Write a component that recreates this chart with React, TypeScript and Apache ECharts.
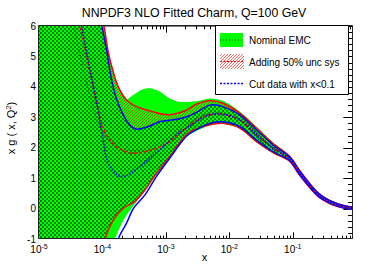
import React, { useEffect, useRef } from 'react';
import * as echarts from 'echarts';

const TITLE = 'NNPDF3 NLO Fitted Charm, Q=100 GeV';
const LEGEND_LABELS = ['Nominal EMC', 'Adding 50% unc sys', 'Cut data with x<0.1'];
// axes (x axis is log10(x))
const X_MIN = -5;
const X_MAX = -0.05;
const Y_MIN = -1;
const Y_MAX = 6;
const DECADES = [-5, -4, -3, -2, -1];
const MINOR_MULT = [2, 3, 4, 5, 6, 7, 8, 9];
const Y_MAJOR = [-1, 0, 1, 2, 3, 4, 5, 6];
const Y_SUBDIV = 5;

// [log10(x), x g(x,Q^2)]
const NOMINAL_UP = [[-5, 10], [-4.3, 9], [-4.1, 7.1], [-3.976, 6.0], [-3.91, 5.16], [-3.83, 4.5], [-3.75, 4.0], [-3.62, 3.6], [-3.51, 3.74], [-3.36, 3.92], [-3.23, 3.95], [-3.09, 3.84], [-2.94, 3.62], [-2.78, 3.51], [-2.52, 3.53], [-2.31, 3.62], [-2.1, 3.54], [-1.83, 3.18], [-1.57, 2.69], [-1.31, 2.17], [-1.05, 1.73], [-0.9, 1.29], [-0.73, 0.83], [-0.6, 0.53], [-0.45, 0.31], [-0.3, 0.17], [-0.15, 0.085], [-0.05, 0.05]];
const NOMINAL_LO = [[-5, -6], [-4.1, -3], [-3.8, -1.0], [-3.67, -0.38], [-3.54, 0.01], [-3.36, 0.5], [-3.15, 1.1], [-2.94, 1.66], [-2.73, 2.24], [-2.62, 2.44], [-2.31, 2.73], [-2.1, 2.78], [-1.83, 2.62], [-1.57, 2.17], [-1.31, 1.82], [-1.05, 1.55], [-0.9, 1.11], [-0.73, 0.67], [-0.6, 0.39], [-0.45, 0.19], [-0.3, 0.07], [-0.15, -0.005], [-0.05, -0.03]];
const NOMINAL_C = [[-4.75, 9], [-4.45, 6.0], [-4.3, 4.6], [-4.17, 3.5], [-4.05, 2.75], [-3.92, 2.3], [-3.78, 2.05], [-3.6, 1.92], [-3.45, 1.92], [-3.25, 2.02], [-3.04, 2.22], [-2.88, 2.45], [-2.73, 2.68], [-2.5, 2.98], [-2.31, 3.14], [-2.1, 3.14], [-1.83, 2.95], [-1.57, 2.44], [-1.31, 2.0], [-1.05, 1.64], [-0.9, 1.2], [-0.73, 0.75], [-0.6, 0.46], [-0.45, 0.25], [-0.3, 0.12], [-0.15, 0.04], [-0.05, 0.01]];

const SYS_UP = [[-5, 10], [-4.3, 9], [-4.1, 7.1], [-3.976, 6.0], [-3.91, 5.16], [-3.83, 4.5], [-3.75, 4.0], [-3.62, 3.57], [-3.46, 3.35], [-3.25, 3.21], [-3.04, 3.1], [-2.88, 3.1], [-2.67, 3.24], [-2.52, 3.43], [-2.31, 3.54], [-2.1, 3.46], [-1.83, 3.13], [-1.57, 2.64], [-1.31, 2.14], [-1.05, 1.72], [-0.9, 1.28], [-0.73, 0.82], [-0.6, 0.52], [-0.45, 0.3], [-0.3, 0.165], [-0.15, 0.08], [-0.05, 0.045]];
const SYS_LO = [[-5, -6], [-4.2, -3], [-3.96, -1.0], [-3.83, -0.38], [-3.67, 0.01], [-3.49, 0.23], [-3.33, 0.61], [-3.15, 1.16], [-2.94, 1.7], [-2.73, 2.31], [-2.62, 2.52], [-2.31, 2.75], [-2.1, 2.8], [-1.83, 2.64], [-1.57, 2.2], [-1.31, 1.84], [-1.05, 1.56], [-0.9, 1.12], [-0.73, 0.68], [-0.6, 0.4], [-0.45, 0.2], [-0.3, 0.075], [-0.15, 0.0], [-0.05, -0.025]];
const SYS_C = [[-4.65, 9], [-4.354, 6.0], [-4.25, 5.0], [-4.145, 4.0], [-4.05, 3.1], [-3.98, 2.6], [-3.88, 2.25], [-3.78, 2.03], [-3.65, 1.88], [-3.52, 1.82], [-3.35, 1.86], [-3.2, 1.95], [-3.04, 2.08], [-2.88, 2.3], [-2.73, 2.56], [-2.5, 2.92], [-2.31, 3.08], [-2.1, 3.1], [-1.83, 2.9], [-1.57, 2.42], [-1.31, 1.99], [-1.05, 1.64], [-0.9, 1.2], [-0.73, 0.75], [-0.6, 0.46], [-0.45, 0.25], [-0.3, 0.12], [-0.15, 0.04], [-0.05, 0.01]];

const CUT_UP = [[-5, 10], [-4.3, 8.8], [-4.12, 7.0], [-4.01, 6.0], [-3.93, 5.16], [-3.86, 4.28], [-3.78, 3.62], [-3.67, 3.07], [-3.57, 2.75], [-3.46, 2.61], [-3.3, 2.68], [-3.09, 2.86], [-2.88, 2.92], [-2.67, 3.02], [-2.52, 3.16], [-2.31, 3.4], [-2.1, 3.35], [-1.83, 3.07], [-1.57, 2.58], [-1.31, 2.09], [-1.05, 1.7], [-0.9, 1.26], [-0.73, 0.8], [-0.6, 0.51], [-0.45, 0.29], [-0.3, 0.16], [-0.15, 0.075], [-0.05, 0.04]];
const CUT_LO = [[-5, -6], [-4.0, -3], [-3.75, -1.0], [-3.62, -0.48], [-3.51, 0.01], [-3.33, 0.45], [-3.15, 1.05], [-2.94, 1.65], [-2.73, 2.25], [-2.62, 2.47], [-2.31, 2.8], [-2.1, 2.85], [-1.83, 2.69], [-1.57, 2.25], [-1.31, 1.87], [-1.05, 1.58], [-0.9, 1.14], [-0.73, 0.7], [-0.6, 0.41], [-0.45, 0.21], [-0.3, 0.08], [-0.15, 0.005], [-0.05, -0.02]];
const CUT_C = [[-4.62, 9], [-4.33, 6.0], [-4.2, 4.6], [-4.09, 3.46], [-4.0, 2.4], [-3.93, 1.6], [-3.85, 1.28], [-3.78, 1.12], [-3.7, 1.05], [-3.6, 1.1], [-3.41, 1.38], [-3.2, 1.75], [-3.04, 2.03], [-2.88, 2.35], [-2.73, 2.58], [-2.62, 2.72], [-2.45, 2.95], [-2.31, 3.08], [-2.1, 3.1], [-1.83, 2.91], [-1.57, 2.42], [-1.31, 1.99], [-1.05, 1.64], [-0.9, 1.2], [-0.73, 0.75], [-0.6, 0.46], [-0.45, 0.25], [-0.3, 0.12], [-0.15, 0.04], [-0.05, 0.01]];

const FONT = '"Liberation Sans", Arial, Helvetica, sans-serif';
const SMOOTH = 0.3;

function makeTile(w: number, h: number, draw: (ctx: CanvasRenderingContext2D) => void) {
  const c = document.createElement('canvas');
  c.width = w;
  c.height = h;
  const ctx = c.getContext('2d') as CanvasRenderingContext2D;
  draw(ctx);
  return { image: c, repeat: 'repeat', imageWidth: w, imageHeight: h };
}

export default function App() {
  const ref = useRef<HTMLDivElement>(null);
  useEffect(() => {
    if (!ref.current) return;
    const chart = echarts.init(ref.current, null, { renderer: 'svg' });

    const hatch = makeTile(3, 3, (ctx) => {
      ctx.fillStyle = 'rgba(255,0,0,0.6)';
      for (let i = 0; i < 3; i++) ctx.fillRect(i, 2 - i, 1, 1);
    });
    const checker = makeTile(4, 4, (ctx) => {
      ctx.fillStyle = '#00ff00';
      ctx.fillRect(0, 0, 4, 4);
      ctx.fillStyle = '#008400';
      ctx.fillRect(0, 0, 2, 2);
      ctx.fillRect(2, 2, 2, 2);
    });

    const xTicks: number[][] = []; // [value, pixel length]
    DECADES.forEach((d) => {
      xTicks.push([d, 6.4]);
      MINOR_MULT.forEach((m) => {
        const v = d + Math.log10(m);
        if (v < X_MAX) xTicks.push([v, 3.2]);
      });
    });
    const yTicks: number[][] = [];
    Y_MAJOR.forEach((y, i) => {
      yTicks.push([y, 9.4]);
      if (i < Y_MAJOR.length - 1) for (let k = 1; k < Y_SUBDIV; k++) yTicks.push([y + k / Y_SUBDIV, 4.7]);
    });

    const band = (upper: number[][], lower: number[][], fill: any, z: number) => ({
      type: 'custom', coordinateSystem: 'cartesian2d', clip: true, silent: true, z,
      data: [[-3, 0]],
      renderItem: (_p: any, api: any) => {
        const pts = upper.map((p) => api.coord(p)).concat(lower.slice().reverse().map((p) => api.coord(p)));
        return { type: 'polygon', shape: { points: pts, smooth: SMOOTH }, style: { fill, stroke: null } };
      },
    });
    const curve = (pts: number[][], color: string, width: number, dash: any, z: number) => ({
      type: 'custom', coordinateSystem: 'cartesian2d', clip: true, silent: true, z,
      data: [[-3, 0]],
      renderItem: (_p: any, api: any) => ({
        type: 'polyline',
        shape: { points: pts.map((p) => api.coord(p)), smooth: SMOOTH },
        style: { stroke: color, lineWidth: width, lineDash: dash, fill: null },
      }),
    });
    // tick comb along one frame side, drawn as one polyline through the axis scales
    const tickComb = (side: 'bottom' | 'top' | 'left' | 'right') => ({
      type: 'custom', coordinateSystem: 'cartesian2d', clip: true, silent: true, z: 1,
      data: [[-3, 0]],
      renderItem: (_p: any, api: any) => {
        const pts: number[][] = [];
        if (side === 'bottom' || side === 'top') {
          const yv = side === 'bottom' ? Y_MIN : Y_MAX;
          const dir = side === 'bottom' ? -1 : 1;
          xTicks.forEach(([v, len]) => {
            const p = api.coord([v, yv]);
            const x = Math.round(p[0]) + 0.5;
            pts.push([x, p[1]], [x, p[1] + dir * len], [x, p[1]]);
          });
        } else {
          const xv = side === 'left' ? X_MIN : X_MAX;
          const dir = side === 'left' ? 1 : -1;
          yTicks.forEach(([v, len]) => {
            const p = api.coord([xv, v]);
            const y = Math.round(p[1]) + 0.5;
            pts.push([p[0], y], [p[0] + dir * len, y], [p[0], y]);
          });
        }
        return { type: 'polyline', shape: { points: pts }, style: { stroke: '#000', lineWidth: 1, fill: null } };
      },
    });

    const xCommon = {
      type: 'value', min: X_MIN, max: X_MAX, interval: 1,
      splitLine: { show: false }, axisLine: { show: false, onZero: false },
      axisTick: { show: false },
    };
    const yCommon = {
      type: 'value', min: Y_MIN, max: Y_MAX, interval: 1,
      splitLine: { show: false }, axisLine: { show: false, onZero: false },
      axisTick: { show: false },
    };

    const option: any = {
      animation: false,
      textStyle: { fontFamily: FONT },
      grid: { left: 39, right: 39, top: 26, bottom: 27 },
      xAxis: [
        {
          ...xCommon, position: 'bottom',
          axisLabel: {
            margin: 4, showMaxLabel: false, color: '#000',
            formatter: (v: number) => (Math.abs(v - Math.round(v)) < 1e-6 ? `{b|10}{s|${Math.round(v)}}` : ''),
            rich: {
              b: { fontSize: 10, lineHeight: 13, fontFamily: FONT, color: '#000' },
              s: { fontSize: 7, lineHeight: 7, verticalAlign: 'top', fontFamily: FONT, color: '#000' },
            },
          },
        },
        { ...xCommon, position: 'top', axisLabel: { show: false } },
      ],
      yAxis: [
        { ...yCommon, position: 'left', axisLabel: { fontSize: 10, margin: 3, color: '#000', fontFamily: FONT } },
        { ...yCommon, position: 'right', axisLabel: { show: false } },
      ],
      series: [
        tickComb('bottom'),
        tickComb('top'),
        tickComb('left'),
        tickComb('right'),
        band(NOMINAL_UP, NOMINAL_LO, '#00ff00', 2),
        band(SYS_UP, SYS_LO, hatch, 3),
        band(CUT_UP, SYS_LO, checker, 4),
        curve(NOMINAL_C, '#006400', 1, [1, 2], 5),
        curve(SYS_UP, '#ff0000', 1.5, null, 6),
        curve(SYS_LO, '#ff0000', 1.5, null, 6),
        curve(CUT_UP, '#0000ff', 1.5, null, 7),
        curve(CUT_LO, '#0000ff', 1.5, null, 7),
        curve(SYS_C, '#ff0000', 1.5, [3, 2], 8),
        curve(CUT_C, '#0000ff', 1.6, [1.5, 1.5], 9),
      ],
      graphic: [
        { type: 'rect', z: 100, silent: true, shape: { x: 38.5, y: 25.5, width: 314, height: 213 }, style: { fill: 'none', stroke: '#222', lineWidth: 1 } },
        { type: 'text', z: 100, x: 194, y: 12.5, style: { text: TITLE, fontSize: 12.3, fontFamily: FONT, fill: '#000', align: 'center', verticalAlign: 'middle' } },
        {
          type: 'text', z: 100, x: 11, y: 128, rotation: Math.PI / 2,
          style: {
            text: '{a|x g ( x, Q}{s|2}{a|)}', align: 'center', verticalAlign: 'middle', fill: '#000',
            rich: {
              a: { fontSize: 11, lineHeight: 14, fontFamily: FONT, fill: '#000' },
              s: { fontSize: 7.5, lineHeight: 8, verticalAlign: 'top', fontFamily: FONT, fill: '#000' },
            },
          },
        },
        { type: 'text', z: 100, x: 204.5, y: 256.5, style: { text: 'x', fontSize: 11, fontFamily: FONT, fill: '#000', align: 'center', verticalAlign: 'middle' } },
        // legend
        { type: 'rect', z: 150, shape: { x: 215.5, y: 25.5, width: 133, height: 69 }, style: { fill: '#fff', stroke: '#000', lineWidth: 1 } },
        { type: 'rect', z: 151, shape: { x: 220, y: 33, width: 23, height: 14 }, style: { fill: '#00ff00' } },
        { type: 'line', z: 152, shape: { x1: 220, y1: 40, x2: 243, y2: 40 }, style: { stroke: '#006400', lineWidth: 1, lineDash: [1, 2] } },
        { type: 'text', z: 152, x: 249, y: 40, style: { text: LEGEND_LABELS[0], fontSize: 10, fontFamily: FONT, fill: '#000', verticalAlign: 'middle' } },
        { type: 'rect', z: 151, shape: { x: 220, y: 54, width: 24, height: 15 }, style: { fill: hatch } },
        { type: 'line', z: 152, shape: { x1: 220, y1: 61.5, x2: 244, y2: 61.5 }, style: { stroke: '#ff0000', lineWidth: 1.2, lineDash: [2, 1.5] } },
        { type: 'text', z: 152, x: 249, y: 62, style: { text: LEGEND_LABELS[1], fontSize: 10, fontFamily: FONT, fill: '#000', verticalAlign: 'middle' } },
        { type: 'line', z: 152, shape: { x1: 220, y1: 83.5, x2: 243, y2: 83.5 }, style: { stroke: '#0000ff', lineWidth: 1.3, lineDash: [2, 1.5] } },
        { type: 'text', z: 152, x: 249, y: 84, style: { text: LEGEND_LABELS[2], fontSize: 10, fontFamily: FONT, fill: '#000', verticalAlign: 'middle' } },
      ],
    };
    chart.setOption(option);
    return () => chart.dispose();
  }, []);
  return <div ref={ref} style={{ position: 'absolute', left: 0, top: 0, width: 392, height: 266 }} />;
}
